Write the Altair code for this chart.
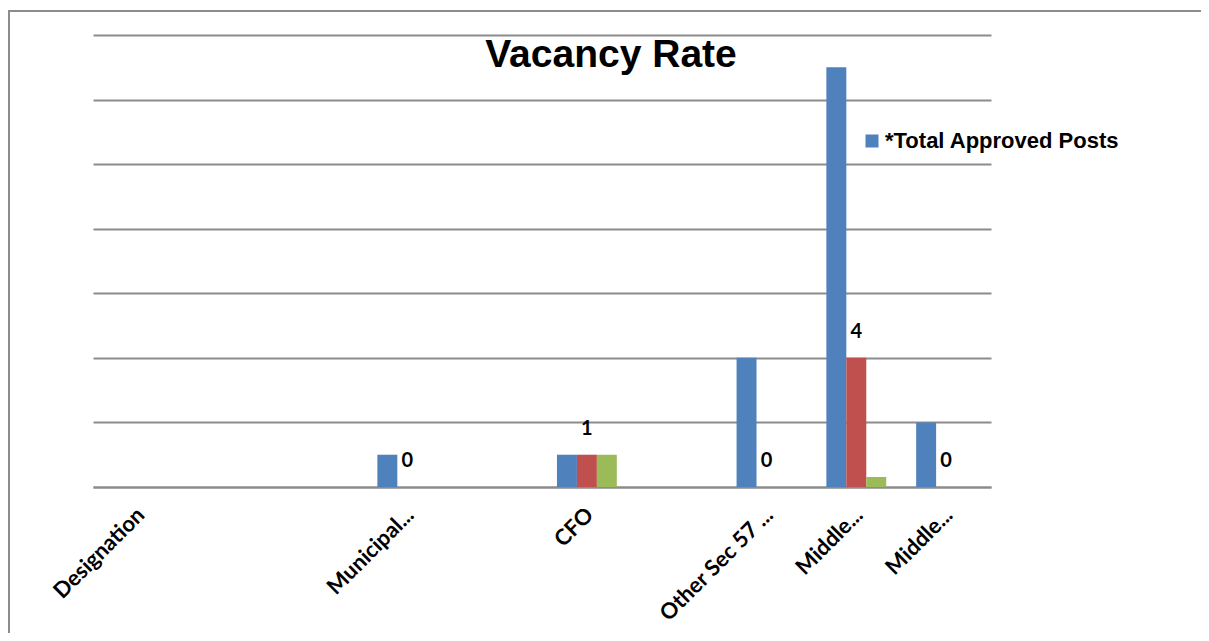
import json
import altair as alt
import pandas as pd

# ---- data ----
categories = ["Designation", "", "", "Municipal...", "", "CFO", "", "Other Sec 57 ...", "Middle...", "Middle..."]
series_names = ["*Total Approved Posts", "Vacant Posts", "Vacancy Rate (%)"]
total_posts = [None, None, None, 1, None, 1, None, 4, 13, 2]
vacant_posts = [None, None, None, 0, None, 1, None, 0, 4, 0]
vacancy_rate = [None, None, None, 0, None, 1, None, 0, 0.31, 0]
series_colors = ["#4F81BD", "#C0504D", "#9BBB59"]
y_ticks = [0, 2, 4, 6, 8, 10, 12, 14]
chart_title = "Vacancy Rate"

rows = []
for i, cat in enumerate(categories):
    for name, vals in zip(series_names, [total_posts, vacant_posts, vacancy_rate]):
        v = vals[i]
        if v is not None:
            rows.append({"slot": i, "category": cat, "series": name, "value": v})
df = pd.DataFrame(rows)
label_df = df[df["series"] == series_names[1]].copy()
label_df["txt"] = label_df["value"].map(lambda v: str(int(round(v))))

label_expr = "[" + ",".join(json.dumps(c) for c in categories) + "][datum.value]"

GRID = "#8c8c8c"

x_enc = alt.X(
    "slot:O",
    title=None,
    scale=alt.Scale(domain=list(range(len(categories))), paddingInner=1 / 3, paddingOuter=1 / 6),
    axis=alt.Axis(
        labelExpr=label_expr,
        labelAngle=315,
        labelAlign="right",
        labelBaseline="middle",
        labelFont="Lato",
        labelFontWeight="bold",
        labelFontSize=22,
        labelColor="black",
        labelPadding=24,
        labelOffset=3,
        ticks=False,
        domainColor=GRID,
        domainWidth=2,
        grid=False,
    ),
)
xoff_enc = alt.XOffset("series:N", scale=alt.Scale(domain=series_names, paddingInner=0, paddingOuter=0))
y_enc = alt.Y(
    "value:Q",
    title=None,
    scale=alt.Scale(domain=[0, 14], nice=False),
    axis=alt.Axis(values=y_ticks, labels=False, ticks=False, domain=False, grid=True,
                  gridColor=GRID, gridWidth=2),
)

bars = alt.Chart(df).mark_bar().encode(
    x=x_enc,
    xOffset=xoff_enc,
    y=y_enc,
    color=alt.Color(
        "series:N",
        scale=alt.Scale(domain=series_names, range=series_colors),
        legend=alt.Legend(
            values=[series_names[0]],
            title=None,
            orient="none",
            legendX=768,
            legendY=95,
            symbolType="square",
            symbolSize=169,
            symbolStrokeWidth=0,
            symbolOpacity=1,
            labelFont="Liberation Sans",
            labelFontWeight="bold",
            labelFontSize=22,
            labelColor="black",
            labelOffset=2,
            labelLimit=400,
        ),
    ),
)

labels = alt.Chart(label_df).mark_text(
    font="Lato", fontWeight="bold", fontSize=20, color="black", baseline="middle", dy=-26
).encode(
    x=x_enc,
    xOffset=xoff_enc,
    y=alt.Y("value:Q"),
    text="txt:N",
)

single = pd.DataFrame({"k": [0]})
title_mark = alt.Chart(single).mark_text(
    text=chart_title, font="Liberation Sans", fontSize=39, fontWeight="bold",
    color="black", align="center", baseline="alphabetic"
).encode(x=alt.value(518), y=alt.value(32))

frame_left = alt.Chart(single).mark_rule(color="#8c8c8c", strokeWidth=2).encode(
    x=alt.value(-84), y=alt.value(-25), y2=alt.value(600)
)
frame_top = alt.Chart(single).mark_rule(color="#8c8c8c", strokeWidth=2).encode(
    x=alt.value(-85), x2=alt.value(1108), y=alt.value(-24)
)

chart = (
    alt.layer(bars, labels, title_mark, frame_left, frame_top)
    .properties(
        width=898,
        height=452,
        padding={"left": 85, "top": 27, "right": 210, "bottom": 146},
        autosize=alt.AutoSizeParams(type="none"),
        background="white",
    )
    .configure_view(stroke=None, strokeWidth=0)
)

chart.save("out.html", embed_options={"renderer": "svg", "actions": False})
